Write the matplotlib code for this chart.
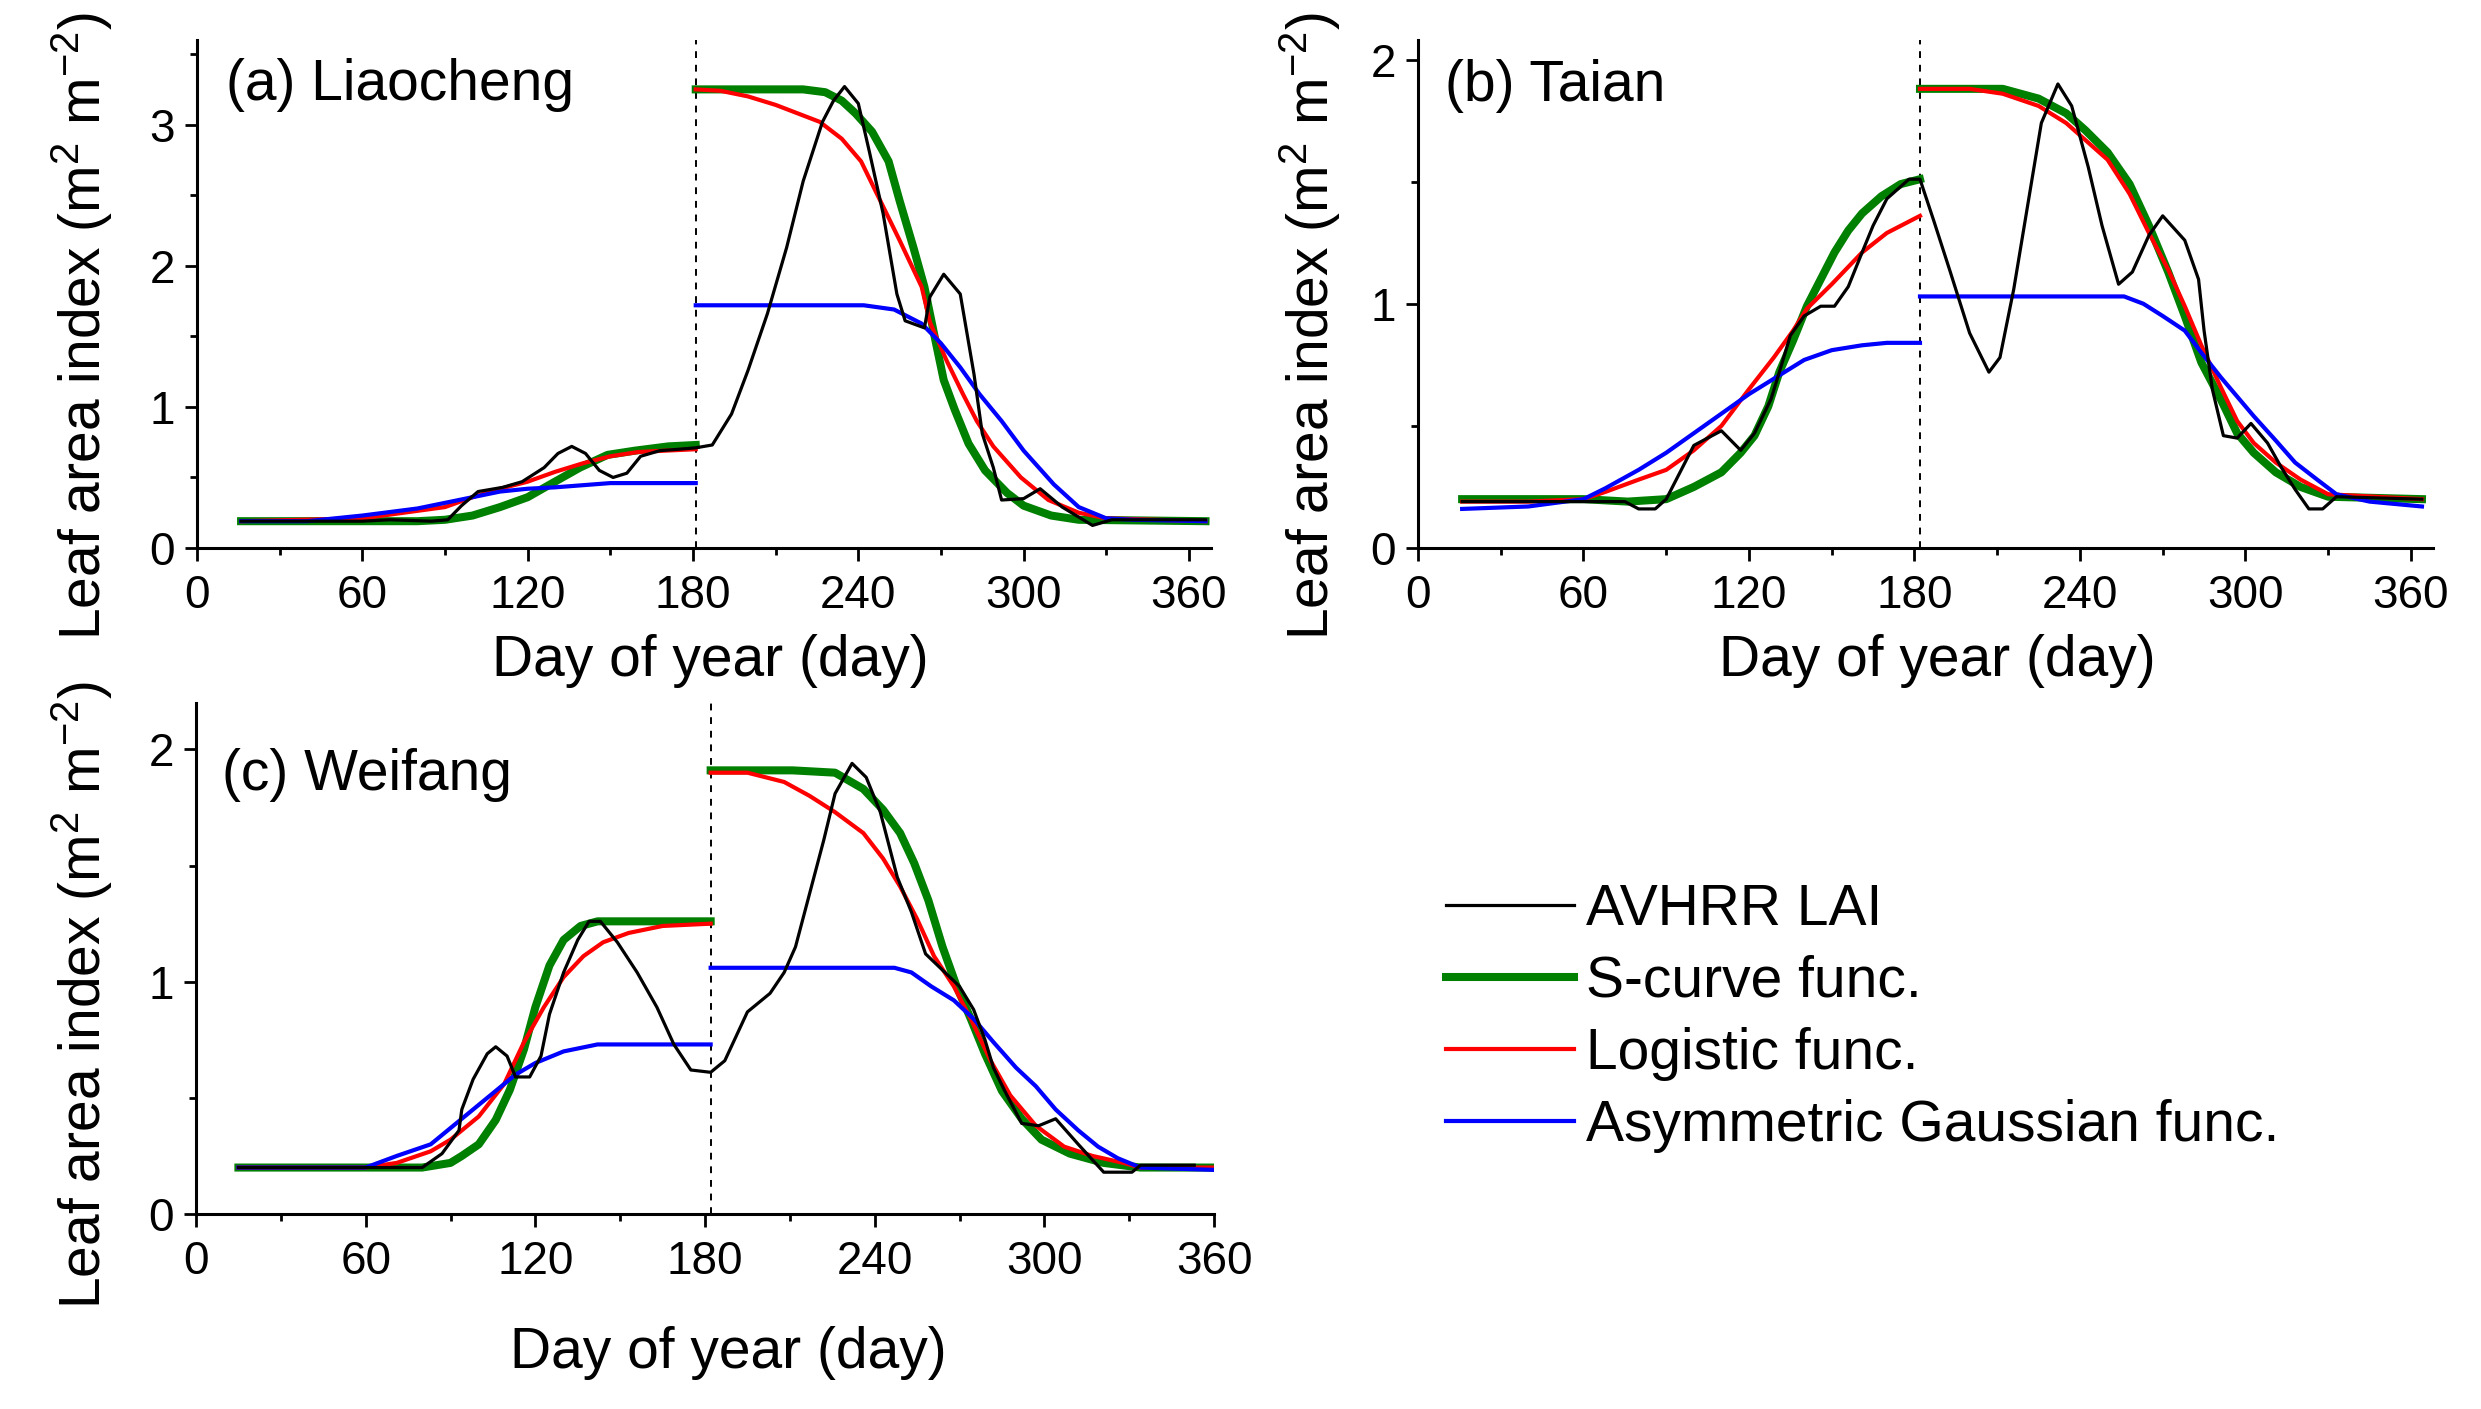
import matplotlib
matplotlib.use("Agg")
import matplotlib.pyplot as plt
from matplotlib.lines import Line2D
from matplotlib.ticker import MultipleLocator

plt.rcParams['font.family'] = ['Liberation Sans', 'DejaVu Sans']
plt.rcParams['mathtext.fontset'] = 'custom'
plt.rcParams['mathtext.rm'] = 'Liberation Sans'
plt.rcParams['mathtext.it'] = 'Liberation Sans:italic'

# ---------------- data ----------------
series_labels = ["AVHRR LAI", "S-curve func.", "Logistic func.", "Asymmetric Gaussian func."]
panel_titles = ["(a) Liaocheng", "(b) Taian", "(c) Weifang"]
x_ticks = [0, 60, 120, 180, 240, 300, 360]
split_days = [181, 182, 182]

# Panel (a) Liaocheng
a_obs_x = [16, 40, 60, 70, 85, 91, 96, 102, 111, 118, 126, 131, 136, 141, 146, 151, 156, 161, 168, 175, 181,
           187, 194, 200, 207, 214, 220, 227, 231, 235, 240, 244, 249, 254, 257, 264, 266, 271, 277, 282, 285,
           289, 292, 300, 306, 314, 325, 332, 366]
a_obs_y = [0.19, 0.19, 0.19, 0.20, 0.19, 0.20, 0.30, 0.40, 0.43, 0.47, 0.57, 0.67, 0.72, 0.67, 0.55, 0.50, 0.53,
           0.65, 0.69, 0.70, 0.71, 0.73, 0.95, 1.26, 1.66, 2.13, 2.60, 3.02, 3.17, 3.27, 3.15, 2.81, 2.37, 1.80,
           1.61, 1.56, 1.78, 1.94, 1.80, 1.23, 0.81, 0.57, 0.34, 0.35, 0.42, 0.29, 0.16, 0.20, 0.20]
a_s1_x = [16, 60, 80, 90, 100, 110, 120, 129, 139, 149, 159, 171, 181]
a_s1_y = [0.19, 0.19, 0.19, 0.20, 0.23, 0.29, 0.36, 0.46, 0.57, 0.66, 0.69, 0.72, 0.73]
a_s2_x = [181, 200, 220, 228, 234, 239, 245, 251, 255, 260, 264, 268, 271, 275, 280, 286, 294, 300, 310, 320, 366]
a_s2_y = [3.25, 3.25, 3.25, 3.23, 3.17, 3.08, 2.95, 2.74, 2.46, 2.13, 1.85, 1.47, 1.19, 0.98, 0.74, 0.55, 0.39,
          0.30, 0.23, 0.20, 0.19]
a_l1_x = [16, 60, 90, 100, 110, 120, 130, 140, 150, 160, 170, 181]
a_l1_y = [0.19, 0.21, 0.29, 0.36, 0.42, 0.47, 0.54, 0.60, 0.65, 0.68, 0.69, 0.70]
a_l2_x = [181, 190, 200, 210, 218, 226, 234, 241, 248, 255, 263, 266, 272, 278, 283, 289, 299, 309, 320, 330, 366]
a_l2_y = [3.25, 3.24, 3.20, 3.14, 3.08, 3.02, 2.90, 2.74, 2.46, 2.18, 1.85, 1.60, 1.33, 1.09, 0.90, 0.72, 0.50,
          0.34, 0.25, 0.21, 0.19]
a_g1_x = [16, 40, 60, 80, 90, 100, 110, 120, 130, 140, 150, 181]
a_g1_y = [0.19, 0.19, 0.23, 0.28, 0.32, 0.36, 0.40, 0.42, 0.43, 0.445, 0.46, 0.46]
a_g2_x = [181, 242, 253, 263, 270, 277, 284, 292, 300, 311, 320, 330, 340, 366]
a_g2_y = [1.72, 1.72, 1.69, 1.59, 1.45, 1.28, 1.09, 0.90, 0.69, 0.45, 0.29, 0.21, 0.20, 0.19]

# Panel (b) Taian
b_obs_x = [16, 40, 60, 75, 80, 86, 90, 95, 100, 110, 117, 122, 128, 131, 135, 140, 146, 151, 156, 161, 165,
           170, 178, 182, 187, 193, 200, 207, 211, 216, 221, 226, 232, 237, 243, 248, 254, 259, 265, 270, 278,
           283, 285, 288, 292, 297, 302, 308, 313, 318, 323, 328, 333, 364]
b_obs_y = [0.19, 0.19, 0.19, 0.19, 0.16, 0.16, 0.20, 0.31, 0.42, 0.48, 0.40, 0.47, 0.61, 0.72, 0.87, 0.95,
           0.99, 0.99, 1.07, 1.21, 1.32, 1.43, 1.51, 1.51, 1.34, 1.13, 0.88, 0.72, 0.78, 1.06, 1.40, 1.74, 1.90,
           1.81, 1.56, 1.32, 1.08, 1.13, 1.28, 1.36, 1.26, 1.10, 0.89, 0.65, 0.46, 0.45, 0.51, 0.43, 0.33, 0.24,
           0.16, 0.16, 0.21, 0.20]
b_s1_x = [16, 40, 60, 76, 90, 100, 110, 117, 122, 127, 131, 136, 141, 146, 151, 156, 161, 168, 175, 182]
b_s1_y = [0.20, 0.20, 0.20, 0.19, 0.20, 0.25, 0.31, 0.39, 0.46, 0.58, 0.72, 0.85, 0.99, 1.10, 1.21, 1.30, 1.37,
          1.44, 1.49, 1.51]
b_s2_x = [182, 200, 212, 225, 235, 242, 250, 258, 265, 272, 278, 284, 291, 297, 303, 311, 320, 330, 364]
b_s2_y = [1.88, 1.88, 1.88, 1.84, 1.78, 1.71, 1.62, 1.49, 1.32, 1.13, 0.95, 0.76, 0.61, 0.47, 0.39, 0.31, 0.25,
          0.21, 0.20]
b_l1_x = [16, 40, 60, 68, 80, 90, 100, 110, 120, 129, 136, 141, 150, 161, 170, 182]
b_l1_y = [0.19, 0.19, 0.20, 0.23, 0.28, 0.32, 0.40, 0.50, 0.65, 0.78, 0.89, 0.98, 1.08, 1.21, 1.29, 1.36]
b_l2_x = [182, 200, 212, 225, 235, 242, 250, 258, 265, 272, 278, 284, 291, 297, 303, 311, 320, 330, 364]
b_l2_y = [1.88, 1.88, 1.86, 1.81, 1.74, 1.67, 1.59, 1.45, 1.29, 1.14, 0.99, 0.83, 0.66, 0.52, 0.43, 0.35, 0.28,
          0.22, 0.20]
b_g1_x = [16, 40, 60, 68, 80, 90, 100, 110, 120, 130, 140, 150, 161, 170, 182]
b_g1_y = [0.16, 0.17, 0.20, 0.245, 0.32, 0.39, 0.47, 0.55, 0.63, 0.70, 0.77, 0.81, 0.83, 0.84, 0.84]
b_g2_x = [182, 256, 263, 270, 278, 284, 291, 297, 303, 311, 318, 326, 333, 345, 364]
b_g2_y = [1.03, 1.03, 1.00, 0.95, 0.89, 0.80, 0.70, 0.62, 0.54, 0.44, 0.35, 0.28, 0.22, 0.19, 0.17]

# Panel (c) Weifang
c_obs_x = [15, 50, 80, 87, 93, 94, 98, 103, 106, 110, 113, 118, 122, 125, 130, 135, 139, 143, 149, 156, 163,
           169, 175, 182, 187, 195, 203, 208, 212, 217, 222, 226, 232, 237, 242, 248, 253, 258, 264, 270, 275,
           279, 282, 286, 292, 298, 304, 312, 321, 331, 334, 353]
c_obs_y = [0.20, 0.20, 0.20, 0.26, 0.36, 0.45, 0.58, 0.69, 0.72, 0.68, 0.59, 0.59, 0.68, 0.86, 1.04, 1.18,
           1.26, 1.26, 1.17, 1.04, 0.89, 0.73, 0.62, 0.61, 0.66, 0.87, 0.95, 1.04, 1.15, 1.38, 1.61, 1.81, 1.94,
           1.88, 1.73, 1.45, 1.30, 1.12, 1.05, 0.98, 0.88, 0.75, 0.63, 0.53, 0.39, 0.38, 0.41, 0.30, 0.18, 0.18,
           0.21, 0.21]
c_s1_x = [15, 50, 80, 90, 94, 100, 106, 111, 116, 120, 125, 130, 136, 142, 182]
c_s1_y = [0.20, 0.20, 0.20, 0.22, 0.25, 0.30, 0.405, 0.535, 0.71, 0.89, 1.07, 1.18, 1.24, 1.26, 1.26]
c_s2_x = [182, 211, 226, 236, 243, 249, 254, 259, 264, 269, 274, 279, 285, 292, 299, 309, 321, 334, 360]
c_s2_y = [1.91, 1.91, 1.90, 1.83, 1.74, 1.64, 1.51, 1.35, 1.15, 0.98, 0.84, 0.69, 0.53, 0.41, 0.32, 0.26, 0.22,
          0.20, 0.20]
c_l1_x = [15, 60, 71, 83, 90, 100, 109, 116, 123, 130, 137, 144, 153, 165, 182]
c_l1_y = [0.20, 0.20, 0.22, 0.27, 0.32, 0.42, 0.56, 0.74, 0.89, 1.02, 1.11, 1.17, 1.21, 1.24, 1.25]
c_l2_x = [182, 195, 208, 217, 226, 236, 243, 249, 255, 261, 268, 274, 281, 288, 297, 307, 317, 328, 334, 360]
c_l2_y = [1.90, 1.90, 1.86, 1.80, 1.73, 1.64, 1.53, 1.41, 1.27, 1.11, 0.98, 0.84, 0.66, 0.51, 0.38, 0.29, 0.25,
          0.22, 0.20, 0.20]
c_g1_x = [15, 60, 71, 83, 94, 106, 113, 120, 130, 142, 153, 182]
c_g1_y = [0.20, 0.20, 0.25, 0.30, 0.41, 0.53, 0.60, 0.65, 0.70, 0.73, 0.73, 0.73]
c_g2_x = [182, 247, 253, 260, 268, 275, 282, 290, 297, 304, 312, 319, 326, 334, 360]
c_g2_y = [1.06, 1.06, 1.04, 0.98, 0.92, 0.84, 0.74, 0.63, 0.55, 0.45, 0.36, 0.29, 0.24, 0.20, 0.19]

# ---------------- styles ----------------
W, H = 2481, 1409
C_OBS, C_S, C_L, C_G = "black", "#008000", "#ff0000", "#0000ff"
LW_OBS, LW_S, LW_L, LW_G = 2.3, 5.8, 3.0, 3.0
FS_TICK, FS_LAB = 33, 41

fig = plt.figure(figsize=(W / 100, H / 100), dpi=100)


def px_axes(left, top, right, bottom):
    return fig.add_axes([left / W, 1 - bottom / H, (right - left) / W, (bottom - top) / H])


panels = [
    dict(ax=px_axes(197, 40, 1211, 548), xlim=368, ylim=3.6, yticks=[0, 1, 2, 3],
         obs=(a_obs_x, a_obs_y), s=[(a_s1_x, a_s1_y), (a_s2_x, a_s2_y)],
         l=[(a_l1_x, a_l1_y), (a_l2_x, a_l2_y)], g=[(a_g1_x, a_g1_y), (a_g2_x, a_g2_y)],
         title_pos=(0.029, 0.911), ylab=(-0.113, 0.437), xlab=(0.506, -0.222)),
    dict(ax=px_axes(1418, 40, 2433, 548), xlim=368, ylim=2.08, yticks=[0, 1, 2],
         obs=(b_obs_x, b_obs_y), s=[(b_s1_x, b_s1_y), (b_s2_x, b_s2_y)],
         l=[(b_l1_x, b_l1_y), (b_l2_x, b_l2_y)], g=[(b_g1_x, b_g1_y), (b_g2_x, b_g2_y)],
         title_pos=(0.027, 0.909), ylab=(-0.106, 0.437), xlab=(0.512, -0.222)),
    dict(ax=px_axes(196, 703, 1214, 1214), xlim=360, ylim=2.2, yticks=[0, 1, 2],
         obs=(c_obs_x, c_obs_y), s=[(c_s1_x, c_s1_y), (c_s2_x, c_s2_y)],
         l=[(c_l1_x, c_l1_y), (c_l2_x, c_l2_y)], g=[(c_g1_x, c_g1_y), (c_g2_x, c_g2_y)],
         title_pos=(0.026, 0.859), ylab=(-0.112, 0.429), xlab=(0.523, -0.272)),
]

for i, p in enumerate(panels):
    ax = p["ax"]
    for xs, ys in p["s"]:
        ax.plot(xs, ys, color=C_S, lw=LW_S, zorder=2, solid_joinstyle='round')
    for xs, ys in p["l"]:
        ax.plot(xs, ys, color=C_L, lw=LW_L, zorder=3)
    for xs, ys in p["g"]:
        ax.plot(xs, ys, color=C_G, lw=LW_G, zorder=4)
    ax.plot(p["obs"][0], p["obs"][1], color=C_OBS, lw=LW_OBS, zorder=5)
    ax.axvline(split_days[i], color="black", lw=1.4, ls=(0, (3.5, 3.5)), zorder=1)

    ax.set_xlim(0, p["xlim"])
    ax.set_ylim(0, p["ylim"])
    ax.set_xticks(x_ticks)
    ax.set_yticks(p["yticks"])
    ax.xaxis.set_minor_locator(MultipleLocator(30))
    ax.yaxis.set_minor_locator(MultipleLocator(0.5))
    for side in ("top", "right"):
        ax.spines[side].set_visible(False)
    for side in ("left", "bottom"):
        ax.spines[side].set_linewidth(2.2)
    ax.tick_params(which="major", direction="out", length=9, width=2.0, labelsize=FS_TICK)
    ax.tick_params(which="minor", direction="out", length=5, width=2.0)
    ax.tick_params(axis="x", which="major", pad=10)
    ax.tick_params(axis="y", which="major", pad=7)

    ax.set_xlabel("Day of year (day)", fontsize=FS_LAB)
    ax.xaxis.set_label_coords(*p["xlab"])
    ax.xaxis.label.set_va("center")
    ax.set_ylabel(r"Leaf area index (m$^{\mathregular{2}}$ m$^{\mathregular{-2}}$)", fontsize=FS_LAB)
    ax.yaxis.set_label_coords(*p["ylab"])
    ax.yaxis.label.set_va("center")
    ax.text(p["title_pos"][0], p["title_pos"][1], panel_titles[i], transform=ax.transAxes,
            fontsize=FS_LAB, ha="left", va="center")

handles = [Line2D([], [], color=C_OBS, lw=LW_OBS), Line2D([], [], color=C_S, lw=LW_S),
           Line2D([], [], color=C_L, lw=LW_L), Line2D([], [], color=C_G, lw=LW_G)]
fig.legend(handles, series_labels, loc="center left", bbox_to_anchor=(1446 / W, 1 - 1018 / H),
           frameon=False, fontsize=FS_LAB, handlelength=2.25, handletextpad=0.2,
           labelspacing=0.32, borderpad=0, borderaxespad=0)

fig.savefig("out.png", dpi=100)
